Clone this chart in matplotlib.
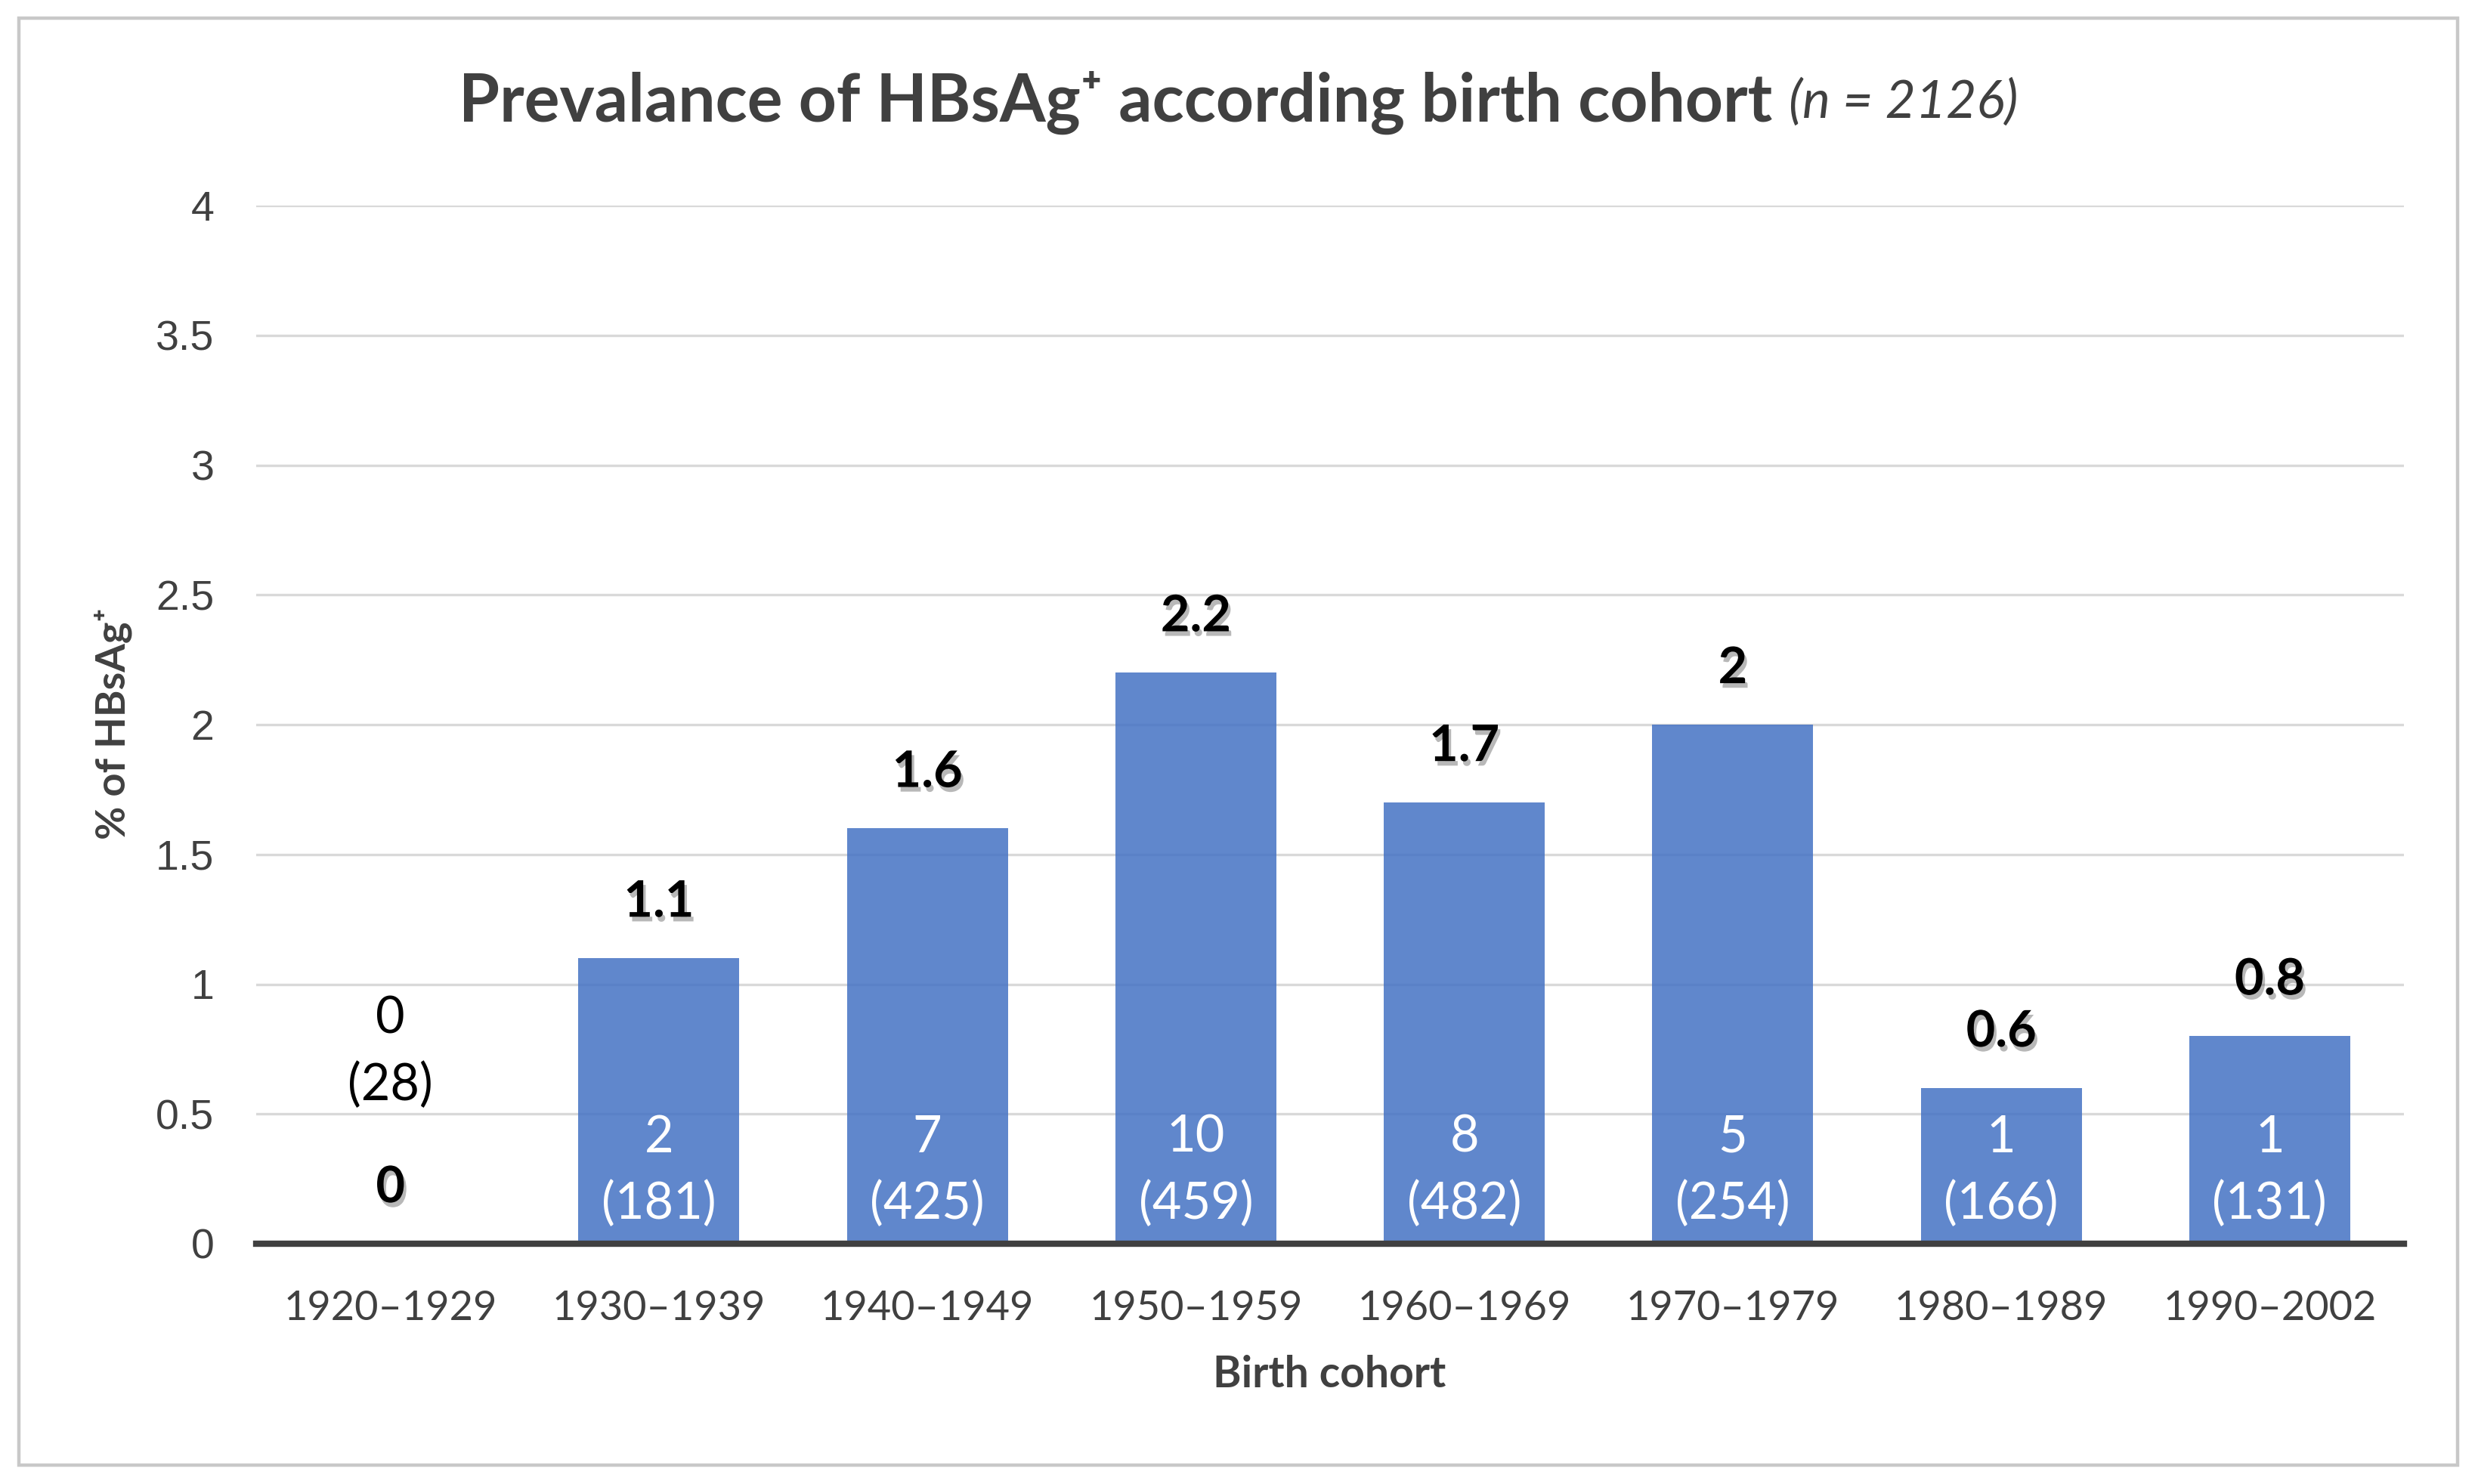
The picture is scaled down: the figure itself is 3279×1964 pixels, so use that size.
import matplotlib
matplotlib.use("Agg")
import matplotlib.pyplot as plt
import matplotlib.patheffects as pe
from matplotlib.patches import Rectangle

# ---- data ----
cohorts = ["1920–1929", "1930–1939", "1940–1949", "1950–1959",
           "1960–1969", "1970–1979", "1980–1989", "1990–2002"]
prevalence = [0, 1.1, 1.6, 2.2, 1.7, 2.0, 0.6, 0.8]
positives = [0, 2, 7, 10, 8, 5, 1, 1]
totals = [28, 181, 425, 459, 482, 254, 166, 131]
value_labels = ["0", "1.1", "1.6", "2.2", "1.7", "2", "0.6", "0.8"]
yticks = [0, 0.5, 1, 1.5, 2, 2.5, 3, 3.5, 4]
ytick_labels = ["0", "0.5", "1", "1.5", "2", "2.5", "3", "3.5", "4"]

W, H, DPI = 3279, 1964, 200
fig = plt.figure(figsize=(W / DPI, H / DPI), dpi=DPI)
fig.patch.set_facecolor("white")

FONT = ["Lato", "DejaVu Sans"]
TXT = "#404040"

ax = fig.add_axes([339 / W, 1 - 1646 / H, (3181 - 339) / W, (1646 - 272) / H])
x = list(range(len(cohorts)))
ax.bar(x, prevalence, width=0.6, color="#4472C4", alpha=0.85, zorder=3)

ax.set_xlim(-0.5, len(cohorts) - 0.5)
ax.set_ylim(0, 4)
ax.set_yticks(yticks)
ax.set_yticklabels(ytick_labels, family=["Liberation Sans", "DejaVu Sans"], fontsize=20, color=TXT)
ax.set_xticks(x)
ax.set_xticklabels(cohorts, family=FONT, fontsize=19.5, color=TXT)
ax.tick_params(axis="y", length=0, pad=20)
ax.tick_params(axis="x", length=0, pad=22)
ax.grid(axis="y", color="#D9D9D9", linewidth=1.2, zorder=0)
ax.set_axisbelow(True)
for s in ["top", "right", "left"]:
    ax.spines[s].set_visible(False)
ax.spines["bottom"].set_color("#404040")
ax.spines["bottom"].set_linewidth(3.0)
ax.spines["bottom"].set_zorder(5)

shadow = [pe.SimplePatchShadow(offset=(1.2, -2.2), shadow_rgbFace="#000000", alpha=0.28), pe.Normal()]

for i, (v, lab, c, n) in enumerate(zip(prevalence, value_labels, positives, totals)):
    ax.text(i, v + 0.215, lab, ha="center", va="center", family=FONT,
            fontweight="bold", fontsize=24, color="black", path_effects=shadow, zorder=6)
    if v > 0:
        ax.text(i, 0.408, str(c), ha="center", va="center", family=FONT,
                fontsize=24, color="white", zorder=6)
        ax.text(i, 0.152, f"({n})", ha="center", va="center", family=FONT,
                fontsize=24, color="white", zorder=6)
    else:
        ax.text(i, 0.865, str(c), ha="center", va="center", family=FONT,
                fontsize=24, color="black", zorder=6)
        ax.text(i, 0.609, f"({n})", ha="center", va="center", family=FONT,
                fontsize=24, color="black", zorder=6)

# axis labels
fig.text(1759 / W, 1 - 1819 / H, "Birth cohort", ha="center", va="center",
         family=FONT, fontweight="bold", fontsize=20.5, color=TXT)
fig.text(150 / W, 1 - 958 / H, "% of HBsAg⁺", ha="center", va="center", rotation=90,
         family=FONT, fontweight="bold", fontsize=19.5, color=TXT)

# title in two pieces
fig.text(2345 / W, 1 - 136 / H, "Prevalance of HBsAg⁺ according birth cohort",
         ha="right", va="center", family=FONT, fontweight="bold", fontsize=31.5, color=TXT)
fig.text(2367 / W, 1 - 136 / H, "(n = 2126)", ha="left", va="center",
         family=FONT, fontstyle="italic", fontsize=25, color=TXT)

# outer frame
fig.patches.append(Rectangle((25 / W, 25 / H), (3252 - 25) / W, (1940 - 25) / H,
                             transform=fig.transFigure, fill=False,
                             edgecolor="#C8C8C8", linewidth=1.6))

fig.savefig("out.png", dpi=DPI)
